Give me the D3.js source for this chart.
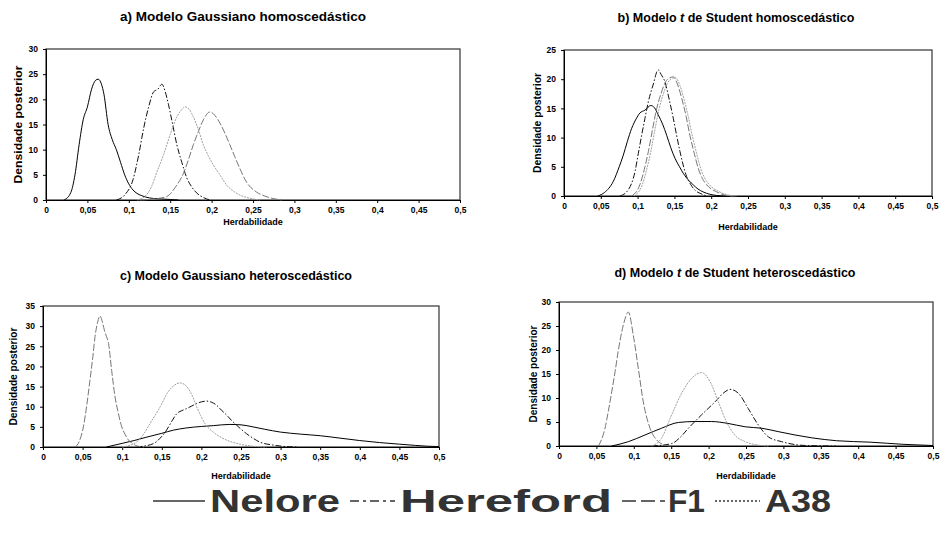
<!DOCTYPE html>
<html>
<head>
    <meta charset="UTF-8">
    <script src="https://d3js.org/d3.v7.min.js"></script>
    <style>
        body { margin: 0; background: white; }
        svg { display: block; font-family: "Liberation Sans", Arial, sans-serif; }
        .tick text { font-weight: bold; font-size: 8.5px; fill: #000; }
        .tick line, .domain { stroke: #000; }
    </style>
</head>
<body>
    <div id="viz"></div>
    <script>
        const breeds = ["Nelore", "Hereford", "F1", "A38"];
        const xTicks = [0, 0.05, 0.1, 0.15, 0.2, 0.25, 0.3, 0.35, 0.4, 0.45, 0.5];

        // a) Gaussiano homoscedastico  [herdabilidade, densidade]
        const aNelore = [[0.022,0],[0.03,1.5],[0.035,5],[0.04,11],[0.045,16],[0.05,18.5],[0.055,22],[0.06,23.8],[0.063,24],[0.067,23],[0.07,21],[0.075,15],[0.08,12],[0.085,10],[0.09,7.5],[0.095,5],[0.1,3.2],[0.105,2],[0.11,1.3],[0.115,0.9],[0.12,0.6],[0.13,0.3],[0.14,0.2],[0.15,0.1],[0.16,0]];
        const aHereford = [[0.085,0],[0.095,1],[0.105,4],[0.112,9],[0.118,14.3],[0.124,18.5],[0.13,21.5],[0.135,22],[0.14,23],[0.144,21.5],[0.148,18.9],[0.153,15],[0.158,11],[0.164,7.5],[0.17,4.4],[0.176,2.6],[0.182,1.4],[0.19,0.5],[0.198,0]];
        const aF1 = [[0.113,0],[0.13,0.2],[0.146,0.7],[0.156,2.5],[0.166,5.3],[0.172,8],[0.178,11],[0.184,13.6],[0.19,15.9],[0.198,17.5],[0.204,16.8],[0.21,15.3],[0.216,13.3],[0.222,11],[0.228,8.6],[0.234,6.3],[0.242,3.6],[0.254,1.6],[0.264,0.8],[0.274,0.3],[0.285,0]];
        const aA38 = [[0.11,0],[0.12,0.8],[0.127,2.5],[0.134,5.6],[0.142,9],[0.15,13],[0.158,16.5],[0.163,17.8],[0.168,18.5],[0.173,18],[0.178,16.5],[0.184,14],[0.19,11],[0.196,8.8],[0.202,7],[0.21,5],[0.218,3],[0.226,1.8],[0.234,1],[0.245,0.4],[0.258,0]];

        // b) t de Student homoscedastico
        const bNelore = [[0.046,0],[0.055,0.6],[0.067,2.5],[0.075,5],[0.0806,7],[0.086,9.3],[0.092,11.6],[0.098,13.2],[0.103,14.2],[0.11,14.7],[0.118,15.5],[0.123,15.1],[0.128,13.9],[0.134,12.3],[0.1395,10.4],[0.145,8.3],[0.151,6.4],[0.157,5],[0.162,3.9],[0.17,2.6],[0.1757,1.9],[0.182,1.2],[0.189,0.7],[0.198,0.3],[0.207,0.1],[0.22,0]];
        const bHereford = [[0.076,0],[0.087,1],[0.0965,4.2],[0.101,7.3],[0.1055,10.4],[0.11,13.3],[0.1145,16.1],[0.121,19],[0.128,21.6],[0.132,20.8],[0.137,19.6],[0.143,16.5],[0.1485,13.3],[0.153,10.4],[0.1576,7.6],[0.1667,3.3],[0.172,2],[0.178,1],[0.186,0.4],[0.194,0]];
        const bF1 = [[0.092,0],[0.103,1.9],[0.109,4.5],[0.1146,7.6],[0.12,11.2],[0.126,15],[0.132,17.6],[0.137,19.3],[0.143,20.2],[0.1485,20.4],[0.154,19.2],[0.16,16.7],[0.166,13.6],[0.171,10.4],[0.177,7.3],[0.1825,4.7],[0.188,3],[0.194,1.9],[0.2075,0.7],[0.221,0.1],[0.23,0]];
        const bA38 = [[0.095,0],[0.106,1.8],[0.112,4.4],[0.1176,7.4],[0.123,11],[0.129,14.8],[0.135,17.5],[0.14,19.2],[0.146,20.1],[0.151,20.3],[0.157,19.1],[0.163,16.6],[0.169,13.5],[0.174,10.5],[0.18,7.4],[0.1855,4.8],[0.191,3.1],[0.197,2],[0.21,0.8],[0.224,0.15],[0.235,0]];

        // c) Gaussiano heteroscedastico
        const cNelore = [[0.08,0],[0.1,0.9],[0.115,1.6],[0.13,2.4],[0.15,3.4],[0.165,4.2],[0.18,4.7],[0.2,5.1],[0.215,5.3],[0.235,5.6],[0.25,5.5],[0.265,5],[0.28,4.4],[0.3,3.7],[0.325,3.2],[0.35,2.8],[0.375,2.2],[0.4,1.6],[0.425,1.1],[0.45,0.7],[0.47,0.4],[0.485,0.2],[0.5,0.1]];
        const cHereford = [[0.118,0],[0.139,0.8],[0.148,2.2],[0.156,4.2],[0.163,6.5],[0.169,8.3],[0.175,9],[0.181,9.5],[0.188,10.2],[0.194,10.8],[0.2,11.2],[0.2065,11.4],[0.213,11.1],[0.219,10.4],[0.225,9.2],[0.232,7.9],[0.238,6.6],[0.2445,5.4],[0.257,3.3],[0.265,2.2],[0.274,1.2],[0.29,0.5],[0.307,0.1],[0.32,0]];
        const cF1 = [[0.0404,0],[0.046,1.5],[0.051,5],[0.055,10],[0.0593,16.6],[0.063,22.5],[0.0657,27.4],[0.069,31],[0.072,32.5],[0.075,31],[0.0775,29],[0.08,27.5],[0.0825,26],[0.0867,19],[0.091,12.4],[0.095,8.5],[0.0994,5],[0.104,3],[0.108,1.7],[0.113,0.9],[0.118,0.3],[0.127,0]];
        const cA38 = [[0.1,0],[0.118,1.2],[0.127,3.2],[0.135,5.8],[0.148,10],[0.158,13.7],[0.165,15.2],[0.173,15.9],[0.178,15.6],[0.1835,14.5],[0.189,12.5],[0.194,10],[0.199,7.8],[0.2045,5.8],[0.215,3.7],[0.232,1.7],[0.249,0.7],[0.265,0.2],[0.282,0]];

        // d) t de Student heteroscedastico
        const dNelore = [[0.0705,0],[0.0927,0.9],[0.115,2.3],[0.137,3.7],[0.1595,4.9],[0.182,5.1],[0.204,5.1],[0.226,4.7],[0.249,4],[0.271,3.7],[0.293,3],[0.3155,2.3],[0.338,1.7],[0.371,1.1],[0.416,0.8],[0.46,0.35],[0.5,0.1]];
        const dHereford = [[0.124,0],[0.1506,0.5],[0.162,1.8],[0.173,3.7],[0.1907,6.5],[0.2086,9.2],[0.222,11.3],[0.2286,11.8],[0.2397,11],[0.253,7.8],[0.2664,4.4],[0.28,1.9],[0.2977,0.9],[0.3155,0.3],[0.33,0.1],[0.37,0]];
        const dF1 = [[0.0527,0],[0.0615,3.7],[0.066,7.3],[0.0705,11.3],[0.075,15.5],[0.079,19.6],[0.086,25.2],[0.0927,27.9],[0.0993,23.1],[0.106,16.2],[0.1127,9.2],[0.1217,3.7],[0.1306,1.25],[0.142,0.2],[0.15,0]];
        const dA38 = [[0.124,0],[0.137,1.6],[0.1506,6.5],[0.164,11],[0.1774,14.1],[0.1907,15.3],[0.202,13.4],[0.213,9.2],[0.224,5],[0.235,2.3],[0.249,0.9],[0.266,0.2],[0.28,0]];

        const styles = {
            Nelore:   { color: "#000", dash: null },
            Hereford: { color: "#111", dash: "6,2,1.5,2" },
            F1:       { color: "#777", dash: "7,2" },
            A38:      { color: "#a0a0a0", dash: "2,1" }
        };

        const panels = [
            { pre: "a) Modelo Gaussiano homoscedástico", t: false, left: 46, right: 460, top: 49, bottom: 200, ymax: 30,
              titleX: 243, titleY: 21, titleSize: 13.5, yLabX: 18, yLabLen: 118, xLabY: 225,
              series: [aNelore, aHereford, aF1, aA38] },
            { pre: "b) Modelo ", t: true, post: " de Student homoscedástico", left: 564, right: 932, top: 50, bottom: 196, ymax: 25,
              titleX: 736, titleY: 22, titleSize: 12.5, yLabX: 537, yLabLen: 100, xLabY: 230,
              series: [bNelore, bHereford, bF1, bA38] },
            { pre: "c) Modelo Gaussiano heteroscedástico", t: false, left: 43, right: 439, top: 306, bottom: 447, ymax: 35,
              titleX: 236, titleY: 280, titleSize: 12.5, yLabX: 13, yLabLen: 98, xLabY: 479,
              series: [cNelore, cHereford, cF1, cA38] },
            { pre: "d) Modelo ", t: true, post: " de Student heteroscedástico", left: 559, right: 933, top: 302, bottom: 446, ymax: 30,
              titleX: 735, titleY: 277, titleSize: 12.5, yLabX: 533, yLabLen: 97, xLabY: 479,
              series: [dNelore, dHereford, dF1, dA38] }
        ];

        const width = 941, height = 537;
        const svg = d3.select("#viz").append("svg")
            .attr("width", width)
            .attr("height", height);

        const fmt = d => String(d).replace(".", ",");

        panels.forEach(p => {
            const x = d3.scaleLinear().domain([0, 0.5]).range([p.left, p.right]);
            const y = d3.scaleLinear().domain([0, p.ymax]).range([p.bottom, p.top]);
            const g = svg.append("g");

            // frame
            g.append("rect")
                .attr("x", p.left).attr("y", p.top)
                .attr("width", p.right - p.left).attr("height", p.bottom - p.top)
                .attr("fill", "none").attr("stroke", "#333").attr("stroke-width", 1.2);

            g.append("g")
                .attr("transform", `translate(0,${p.bottom})`)
                .call(d3.axisBottom(x).tickValues(xTicks).tickSize(3).tickPadding(4).tickFormat(fmt));
            g.append("g")
                .attr("transform", `translate(${p.left},0)`)
                .call(d3.axisLeft(y).ticks(p.ymax / 5).tickSize(3).tickPadding(5).tickFormat(d3.format("d")));

            const line = d3.line()
                .x(d => x(d[0]))
                .y(d => y(d[1]))
                .curve(d3.curveMonotoneX);

            p.series.forEach((s, i) => {
                const st = styles[breeds[i]];
                g.append("path")
                    .datum(s)
                    .attr("d", line)
                    .attr("fill", "none")
                    .attr("stroke", st.color)
                    .attr("stroke-width", 1)
                    .attr("stroke-dasharray", st.dash);
            });

            // title
            const title = g.append("text")
                .attr("x", p.titleX).attr("y", p.titleY)
                .attr("text-anchor", "middle")
                .style("font-weight", "bold")
                .style("font-size", p.titleSize + "px");
            title.append("tspan").text(p.pre);
            if (p.t) {
                title.append("tspan").style("font-style", "italic").text("t");
                title.append("tspan").text(p.post);
            }

            // axis labels
            const cy = (p.top + p.bottom) / 2;
            g.append("text")
                .attr("transform", `translate(${p.yLabX},${cy}) rotate(-90)`)
                .attr("text-anchor", "middle")
                .attr("dy", "0.35em")
                .attr("textLength", p.yLabLen)
                .attr("lengthAdjust", "spacingAndGlyphs")
                .style("font-weight", "bold")
                .style("font-size", "10px")
                .text("Densidade posterior");

            g.append("text")
                .attr("x", (p.left + p.right) / 2)
                .attr("y", p.xLabY)
                .attr("text-anchor", "middle")
                .style("font-weight", "bold")
                .style("font-size", "9px")
                .text("Herdabilidade");
        });

        // legend
        const legendItems = [
            { name: "Nelore",   dash: null,      x1: 153, x2: 205, tx: 210, tw: 130 },
            { name: "Hereford", dash: "9,4,3,4", x1: 350, x2: 395, tx: 400, tw: 212 },
            { name: "F1",       dash: "14,5",    x1: 622, x2: 665, tx: 668, tw: 37 },
            { name: "A38",      dash: "2,2",     x1: 715, x2: 760, tx: 765, tw: 66 }
        ];
        const ly = 501;
        const lg = svg.append("g");
        legendItems.forEach(it => {
            lg.append("line")
                .attr("x1", it.x1).attr("x2", it.x2)
                .attr("y1", ly).attr("y2", ly)
                .attr("stroke", "#333")
                .attr("stroke-width", 1.5)
                .attr("stroke-dasharray", it.dash);
            lg.append("text")
                .attr("x", it.tx).attr("y", ly + 11)
                .attr("textLength", it.tw)
                .attr("lengthAdjust", "spacingAndGlyphs")
                .style("font-weight", "bold")
                .style("font-size", "31px")
                .style("fill", "#333")
                .text(it.name);
        });
    </script>
</body>
</html>
